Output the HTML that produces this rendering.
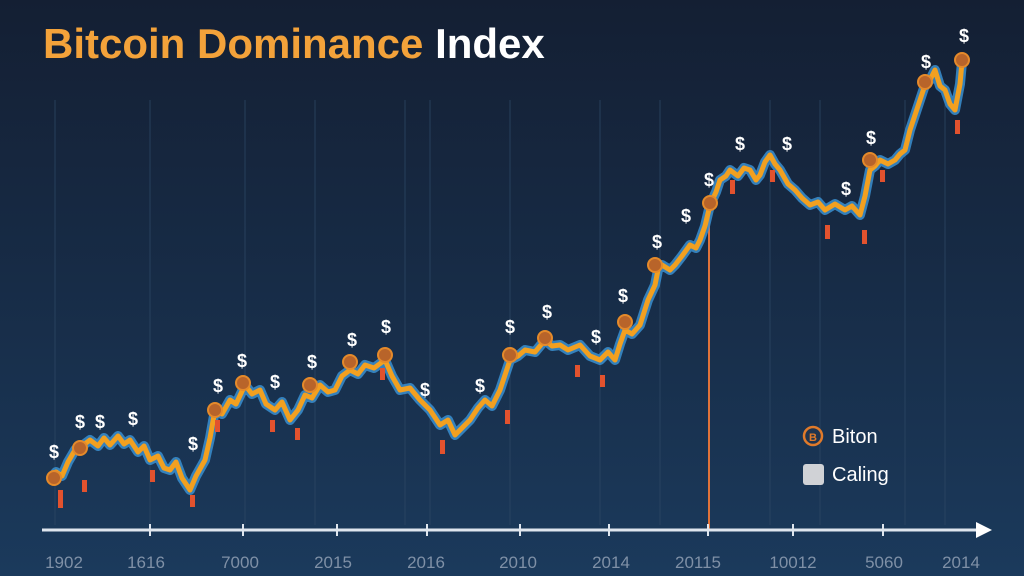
<!DOCTYPE html>
<html><head><meta charset="utf-8"><style>
html,body{margin:0;padding:0;width:1024px;height:576px;overflow:hidden;background:#172a43;}
svg{display:block}
</style></head><body>
<svg width="1024" height="576" viewBox="0 0 1024 576" xmlns="http://www.w3.org/2000/svg" font-family="Liberation Sans, sans-serif">
<defs>
<linearGradient id="bg" x1="0" y1="0" x2="0" y2="1">
<stop offset="0" stop-color="#141f33"/><stop offset="0.5" stop-color="#172c47"/><stop offset="1" stop-color="#1b3a5c"/>
</linearGradient>
</defs>
<rect width="1024" height="576" fill="url(#bg)"/>
<g stroke="#2c4663" stroke-width="1" opacity="0.8">
<line x1="55" y1="100" x2="55" y2="525"/><line x1="150" y1="100" x2="150" y2="525"/><line x1="245" y1="100" x2="245" y2="525"/>
<line x1="315" y1="100" x2="315" y2="525"/><line x1="405" y1="100" x2="405" y2="525"/><line x1="430" y1="100" x2="430" y2="525"/>
<line x1="510" y1="100" x2="510" y2="525"/><line x1="600" y1="100" x2="600" y2="525"/><line x1="660" y1="100" x2="660" y2="525"/>
<line x1="770" y1="100" x2="770" y2="525"/><line x1="820" y1="100" x2="820" y2="525"/><line x1="905" y1="100" x2="905" y2="525"/><line x1="945" y1="100" x2="945" y2="525"/>
</g>
<text x="43" y="58" font-size="42" font-weight="bold" fill="#f3a23a">Bitcoin Dominance <tspan fill="#ffffff">Index</tspan></text>
<line x1="709" y1="205" x2="709" y2="530" stroke="#e0733a" stroke-width="2"/>
<g fill="none" stroke-linejoin="round">
<polyline points="50,480 56,472 62,476 68,462 75,450 82,446 90,440 98,446 104,438 110,445 118,436 124,444 130,440 138,452 144,446 150,460 158,456 164,468 170,470 176,462 182,478 190,490 196,476 205,460 210,438 215,410 222,414 230,400 236,404 245,385 252,394 260,390 266,404 275,410 282,402 290,420 298,410 305,395 312,398 320,385 328,392 335,390 342,376 350,370 358,374 365,365 374,368 385,360 392,376 400,390 410,388 420,400 430,410 440,425 448,420 455,435 462,428 470,420 478,408 485,400 492,406 500,390 506,372 510,360 518,356 525,350 535,352 545,340 552,346 560,345 568,350 580,345 590,356 600,360 608,352 615,360 620,344 625,330 632,334 640,325 648,300 655,285 658,270 662,265 670,270 675,265 682,256 690,245 696,248 700,240 705,226 710,205 716,192 720,180 726,176 730,170 738,176 744,168 750,170 756,180 760,175 765,162 770,155 775,164 780,170 788,184 795,190 802,198 810,205 818,202 825,210 835,204 845,210 852,206 860,215 865,196 870,170 875,166 880,160 888,164 895,160 900,154 905,150 910,130 915,115 920,100 925,85 930,80 935,70 940,86 945,90 950,104 955,110 960,84 962,62" stroke="#3a8fd0" stroke-width="10" opacity="0.85"/>
<polyline points="50,480 56,472 62,476 68,462 75,450 82,446 90,440 98,446 104,438 110,445 118,436 124,444 130,440 138,452 144,446 150,460 158,456 164,468 170,470 176,462 182,478 190,490 196,476 205,460 210,438 215,410 222,414 230,400 236,404 245,385 252,394 260,390 266,404 275,410 282,402 290,420 298,410 305,395 312,398 320,385 328,392 335,390 342,376 350,370 358,374 365,365 374,368 385,360 392,376 400,390 410,388 420,400 430,410 440,425 448,420 455,435 462,428 470,420 478,408 485,400 492,406 500,390 506,372 510,360 518,356 525,350 535,352 545,340 552,346 560,345 568,350 580,345 590,356 600,360 608,352 615,360 620,344 625,330 632,334 640,325 648,300 655,285 658,270 662,265 670,270 675,265 682,256 690,245 696,248 700,240 705,226 710,205 716,192 720,180 726,176 730,170 738,176 744,168 750,170 756,180 760,175 765,162 770,155 775,164 780,170 788,184 795,190 802,198 810,205 818,202 825,210 835,204 845,210 852,206 860,215 865,196 870,170 875,166 880,160 888,164 895,160 900,154 905,150 910,130 915,115 920,100 925,85 930,80 935,70 940,86 945,90 950,104 955,110 960,84 962,62" stroke="#f2a020" stroke-width="5"/>
</g>
<g fill="#e2522e">
<rect x="58" y="490" width="5" height="18"/><rect x="82" y="480" width="5" height="12"/><rect x="150" y="470" width="5" height="12"/><rect x="190" y="495" width="5" height="12"/>
<rect x="215" y="420" width="5" height="12"/><rect x="270" y="420" width="5" height="12"/><rect x="295" y="428" width="5" height="12"/><rect x="380" y="368" width="5" height="12"/>
<rect x="440" y="440" width="5" height="14"/><rect x="505" y="410" width="5" height="14"/><rect x="575" y="365" width="5" height="12"/><rect x="600" y="375" width="5" height="12"/>
<rect x="730" y="180" width="5" height="14"/><rect x="770" y="170" width="5" height="12"/><rect x="825" y="225" width="5" height="14"/><rect x="862" y="230" width="5" height="14"/><rect x="880" y="170" width="5" height="12"/><rect x="955" y="120" width="5" height="14"/>
</g>
<g fill="#b8642a" stroke="#e58a2a" stroke-width="2">
<circle cx="54" cy="478" r="7"/><circle cx="80" cy="448" r="7"/><circle cx="215" cy="410" r="7"/><circle cx="243" cy="383" r="7"/><circle cx="310" cy="385" r="7"/><circle cx="350" cy="362" r="7"/>
<circle cx="385" cy="355" r="7"/><circle cx="510" cy="355" r="7"/><circle cx="545" cy="338" r="7"/><circle cx="625" cy="322" r="7"/><circle cx="655" cy="265" r="7"/><circle cx="710" cy="203" r="7"/>
<circle cx="870" cy="160" r="7"/><circle cx="925" cy="82" r="7"/><circle cx="962" cy="60" r="7"/>
</g>
<g fill="#ffffff" font-size="18" font-weight="bold" text-anchor="middle">
<text x="54" y="458">$</text><text x="80" y="428">$</text><text x="100" y="428">$</text><text x="133" y="425">$</text><text x="193" y="450">$</text>
<text x="218" y="392">$</text><text x="242" y="367">$</text><text x="275" y="388">$</text><text x="312" y="368">$</text><text x="352" y="346">$</text><text x="386" y="333">$</text>
<text x="425" y="396">$</text><text x="480" y="392">$</text><text x="510" y="333">$</text><text x="547" y="318">$</text><text x="596" y="343">$</text><text x="623" y="302">$</text>
<text x="657" y="248">$</text><text x="686" y="222">$</text><text x="709" y="186">$</text><text x="740" y="150">$</text><text x="787" y="150">$</text><text x="846" y="195">$</text>
<text x="871" y="144">$</text><text x="926" y="68">$</text><text x="964" y="42">$</text>
</g>
<line x1="42" y1="530" x2="978" y2="530" stroke="#dfe6ee" stroke-width="3"/>
<polygon points="976,522 992,530 976,538" fill="#ffffff"/>
<g stroke="#dfe6ee" stroke-width="2">
<line x1="150" y1="524" x2="150" y2="536"/><line x1="243" y1="524" x2="243" y2="536"/><line x1="337" y1="524" x2="337" y2="536"/><line x1="427" y1="524" x2="427" y2="536"/><line x1="520" y1="524" x2="520" y2="536"/><line x1="609" y1="524" x2="609" y2="536"/><line x1="708" y1="524" x2="708" y2="536"/><line x1="793" y1="524" x2="793" y2="536"/><line x1="883" y1="524" x2="883" y2="536"/>
</g>
<g fill="#7f90a6" font-size="17" text-anchor="middle">
<text x="64" y="568">1902</text><text x="146" y="568">1616</text><text x="240" y="568">7000</text><text x="333" y="568">2015</text><text x="426" y="568">2016</text>
<text x="518" y="568">2010</text><text x="611" y="568">2014</text><text x="698" y="568">20115</text><text x="793" y="568">10012</text><text x="884" y="568">5060</text><text x="961" y="568">2014</text>
</g>
<circle cx="813" cy="436" r="9" fill="#20344f" stroke="#e07a2a" stroke-width="2.5"/>
<text x="813" y="441" font-size="11" font-weight="bold" fill="#e07a2a" text-anchor="middle">B</text>
<text x="832" y="443" font-size="20" fill="#ffffff">Biton</text>
<rect x="803" y="464" width="21" height="21" rx="3" fill="#d0d2d6"/>
<text x="832" y="481" font-size="20" fill="#ffffff">Caling</text>
</svg>
</body></html>
